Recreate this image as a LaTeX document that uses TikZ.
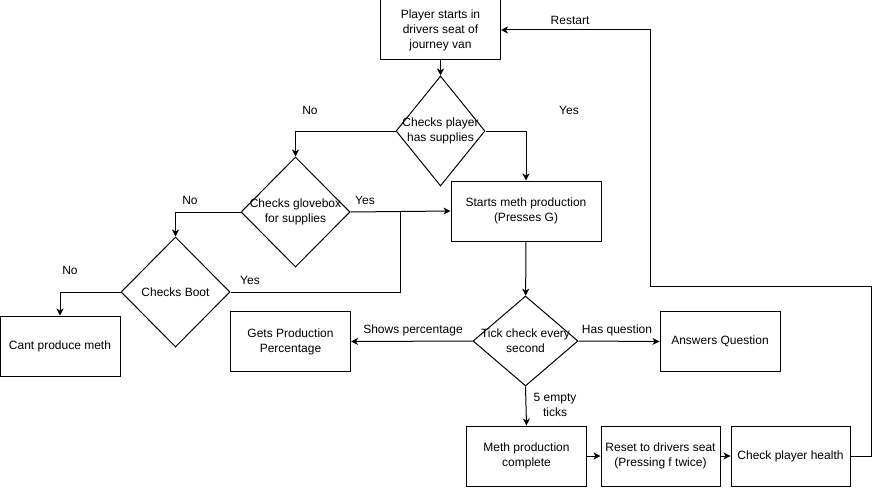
\documentclass[tikz,border=0pt]{standalone}
\usepackage{fontspec}
\setmainfont{Liberation Sans}
\usetikzlibrary{shapes.geometric,arrows.meta}
\begin{document}
\begin{tikzpicture}[x=1pt,y=-1pt,
  font=\fontsize{12}{15}\selectfont,
  line width=1pt,
  box/.style={draw, rectangle, minimum width=120pt, minimum height=60pt, inner sep=0pt, align=center},
  choice/.style={draw, diamond, inner sep=0pt},
  lbl/.style={inner sep=0pt, align=center},
  flow/.style={-{Stealth[length=7pt,width=7pt,inset=2pt]}}]
\useasboundingbox (0,0) rectangle (880,487);

% process boxes
\node[box] (start) at (440.5,30) {Player starts in\\drivers seat of\\journey van};
\node[box, minimum width=150pt] (prod) at (526,211) {Starts meth production\\(Presses G)};
\node[box] (cant) at (60,346) {Cant produce meth};
\node[box, minimum width=120pt] (perc) at (290.5,341.5) {Gets Production\\Percentage};
\node[box] (answer) at (720,341.5) {Answers Question};
\node[box] (done) at (526.5,456) {Meth production\\complete};
\node[box, minimum width=119pt] (reset) at (660.5,456) {Reset to drivers seat\\(Pressing f twice)};
\node[box, minimum width=119pt] (health) at (790.5,456) {Check player health};

% decisions: outline sized explicitly, text set on top
\node[choice, minimum width=89pt, minimum height=110pt] (supplies) at (440.5,131) {};
\node[lbl] (suppliesT) at (supplies) {Checks player\\has supplies};
\node[choice, minimum width=109pt, minimum height=110pt] (glove) at (295.5,212) {};
\node[lbl] (gloveT) at (glove) {Checks glovebox\\for supplies};
\node[choice, minimum width=109pt, minimum height=110pt] (boot) at (175.5,292) {};
\node[lbl] (bootT) at (boot) {Checks Boot};
\node[choice, minimum width=105pt, minimum height=90pt] (tick) at (525.5,341) {};
\node[lbl] (tickT) at (tick) {Tick check every\\second};

% junction and bend points
\coordinate (merge) at (400,211);
\coordinate (loopA) at (871,456);
\coordinate (loopB) at (871,286);
\coordinate (loopC) at (650,286);
\coordinate (loopD) at (650,30);

% connectors
\draw[flow] (start) -- (supplies);
\draw[flow] (supplies.west) -| (glove.north);
\draw[flow] (supplies.east) -| (prod.north);
\draw[flow] (glove.east) -- (prod.west);
\draw[flow] (glove.west) -| (boot.north);
\draw (boot.east) -| (merge);
\draw[flow] (boot.west) -| (cant.north);
\draw[flow] (prod) -- (tick);
\draw[flow] (tick.west) -- (perc.east);
\draw[flow] (tick.east) -- (answer.west);
\draw[flow] (tick.south) -- (done.north);
\draw[flow] (done) -- (reset);
\draw[flow] (reset) -- (health);
\draw[flow] (health.east) -- (loopA) -- (loopB) -- (loopC) -- (loopD) -- (start.east);

% branch labels
\node[lbl] (l1) at (310,110) {No};
\node[lbl] (l2) at (569,110) {Yes};
\node[lbl] (l3) at (365,200) {Yes};
\node[lbl] (l4) at (190,200) {No};
\node[lbl] (l5) at (250,280) {Yes};
\node[lbl] (l6) at (70,270) {No};
\node[lbl] (l7) at (413,330) {Shows percentage};
\node[lbl] (l8) at (617,330) {Has question};
\node[lbl] (l9) at (555,405) {5 empty\\ticks};
\node[lbl] (l10) at (570,20) {Restart};
\end{tikzpicture}
\end{document}
